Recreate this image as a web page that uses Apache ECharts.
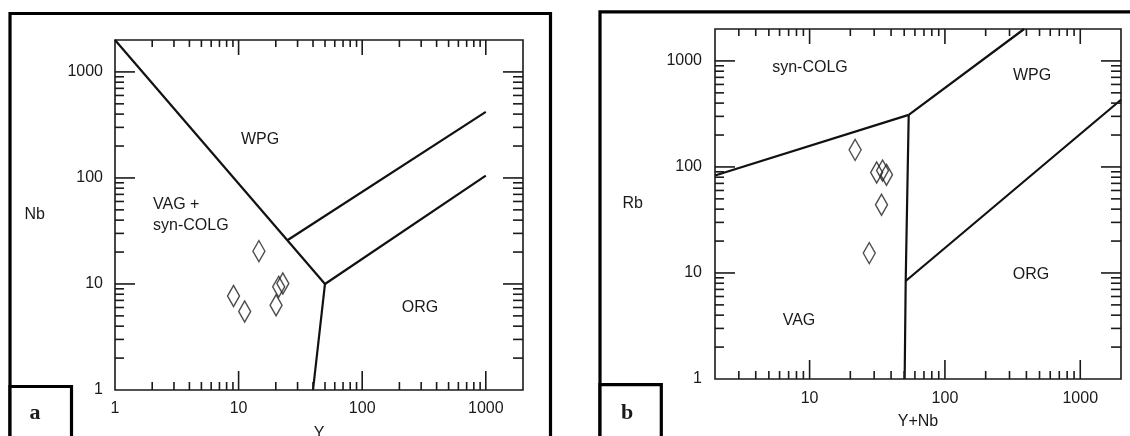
<!DOCTYPE html>
<html><head><meta charset="utf-8">
<script src="https://cdn.jsdelivr.net/npm/echarts@6/dist/echarts.min.js"></script>
<style>html,body{margin:0;padding:0;background:#fff}#c{width:1130px;height:436px}</style>
</head><body><div id="c"></div>
<script>
// ---- Panel a : Nb vs Y ----
const sampleY  = [14.6, 9.1, 11.2, 20.1, 21.1, 22.8];
const sampleNb = [20.4, 7.7, 5.5, 6.3, 9.4, 10.1];
// ---- Panel b : Rb vs Y+Nb ----
const sampleYNb = [21.7, 31.3, 34.6, 37.0, 34.0, 27.6];
const sampleRb  = [145, 88.6, 92.5, 84.3, 44, 15.4];

// discrimination boundaries (Pearce et al. 1984)
const aLineVAG_WPG = [[1, 2000], [50, 10]];
const aLineVAG_ORG = [[50, 10], [40, 1]];
const aLineORG_WPG = [[50, 10], [1000, 105]];
const aLineUpper   = [[25, 26], [1000, 420]];
const bLineVAG_COLG = [[2, 83], [54, 310]];
const bLineCOLG_WPG = [[54, 310], [385, 2000]];
const bLineVAG_ORG  = [[54, 310], [51.3, 8.4], [50.4, 1]];
const bLineORG_WPG  = [[51.3, 8.4], [2000, 430]];

// tick values and labels
const majorLabels = [1, 10, 100, 1000];
const ticksA_x = [2,3,4,5,6,7,8,9,10,20,30,40,50,60,70,80,90,100,200,300,400,500,600,700,800,900,1000];
const ticksA_y = [2,3,4,5,6,7,8,9,10,20,30,40,50,60,70,80,90,100,200,300,400,500,600,700,800,900,1000];
const ticksB_x = [3,4,5,6,7,8,9,10,20,30,40,50,60,70,80,90,100,200,300,400,500,600,700,800,900,1000];
const ticksB_y = [2,3,4,5,6,7,8,9,10,20,30,40,50,60,70,80,90,100,200,300,400,500,600,700,800,900,1000];

const FONT = '"Liberation Sans", Arial, sans-serif';
const INK = '#1a1a1a';
const FS = 16;

function labelFmt(v) {
  const r = Math.round(v);
  return (majorLabels.indexOf(r) >= 0 && Math.abs(v - r) < 1e-3) ? String(r) : '';
}

function logAxis(gridIndex, min, max, name, nameGap, margin, isY) {
  const ax = {
    gridIndex, type: 'log', logBase: 10, min, max,
    axisLine: { show: false }, axisTick: { show: false }, splitLine: { show: false },
    axisLabel: { formatter: labelFmt, margin, fontSize: FS, fontFamily: FONT, color: INK },
    name, nameLocation: 'middle', nameGap,
    nameTextStyle: { fontSize: FS, fontFamily: FONT, color: INK }
  };
  if (isY) ax.nameRotate = 0;
  return ax;
}

function tickSeries(idx, xTicks, yTicks, xMin, xMax, yMin, yMax) {
  const items = [];
  xTicks.forEach(v => items.push({ ax: 'x', v, major: majorLabels.indexOf(v) >= 0 }));
  yTicks.forEach(v => items.push({ ax: 'y', v, major: majorLabels.indexOf(v) >= 0 }));
  return {
    type: 'custom', xAxisIndex: idx, yAxisIndex: idx, silent: true, z: 5,
    data: items.map(it => it.ax === 'x' ? [it.v, yMin] : [xMin, it.v]),
    renderItem(params, api) {
      const it = items[params.dataIndex];
      const st = { stroke: INK, lineWidth: 1.6 };
      if (it.ax === 'x') {
        const b = api.coord([it.v, yMin]), t = api.coord([it.v, yMax]);
        const lb = it.major ? 19 : 8, lt = it.major ? 15 : 7;
        return { type: 'group', children: [
          { type: 'line', shape: { x1: b[0], y1: b[1], x2: b[0], y2: b[1] - lb }, style: st },
          { type: 'line', shape: { x1: t[0], y1: t[1], x2: t[0], y2: t[1] + lt }, style: st }
        ]};
      } else {
        const l = api.coord([xMin, it.v]), r = api.coord([xMax, it.v]);
        const ll = it.major ? 20 : 9, lr = it.major ? 20 : 10;
        return { type: 'group', children: [
          { type: 'line', shape: { x1: l[0], y1: l[1], x2: l[0] + ll, y2: l[1] }, style: st },
          { type: 'line', shape: { x1: r[0], y1: r[1], x2: r[0] - lr, y2: r[1] }, style: st }
        ]};
      }
    }
  };
}

function boundary(idx, data) {
  return { type: 'line', xAxisIndex: idx, yAxisIndex: idx, data, showSymbol: false, symbol: 'none',
    lineStyle: { color: '#111', width: 2.2 }, silent: true, z: 3 };
}

function samples(idx, xs, ys) {
  return { type: 'scatter', xAxisIndex: idx, yAxisIndex: idx,
    data: xs.map((x, i) => [x, ys[i]]),
    symbol: 'diamond', symbolSize: [12, 21],
    itemStyle: { color: 'rgba(0,0,0,0)', borderColor: '#222', borderWidth: 1.5 }, z: 4 };
}

function txt(text, x, y, opts) {
  opts = opts || {};
  return { type: 'text', x, y, z: 20, silent: true,
    style: { text, font: opts.font || (FS + 'px ' + FONT), fill: INK,
      align: opts.align || 'center', verticalAlign: 'middle',
      textAlign: opts.align || 'center', textVerticalAlign: 'middle' } };
}

const chart = echarts.init(document.getElementById('c'), null, { renderer: 'canvas' });
chart.setOption({
  animation: false,
  backgroundColor: '#fff',
  grid: [
    { left: 115, top: 40, width: 408, height: 350, show: true, borderColor: INK, borderWidth: 1.6, outerBoundsMode: 'none' },
    { left: 715, top: 29, width: 406, height: 350, show: true, borderColor: INK, borderWidth: 1.6, outerBoundsMode: 'none' }
  ],
  xAxis: [
    logAxis(0, 1, 2000, 'Y', 36, 11, false),
    logAxis(1, 2, 2000, 'Y+Nb', 35, 12, false)
  ],
  yAxis: [
    logAxis(0, 1, 2000, 'Nb', 70, 12, true),
    logAxis(1, 1, 2000, 'Rb', 72, 13, true)
  ],
  series: [
    boundary(0, aLineVAG_WPG), boundary(0, aLineVAG_ORG), boundary(0, aLineORG_WPG), boundary(0, aLineUpper),
    boundary(1, bLineVAG_COLG), boundary(1, bLineCOLG_WPG), boundary(1, bLineVAG_ORG), boundary(1, bLineORG_WPG),
    samples(0, sampleY, sampleNb),
    samples(1, sampleYNb, sampleRb),
    tickSeries(0, ticksA_x, ticksA_y, 1, 2000, 1, 2000),
    tickSeries(1, ticksB_x, ticksB_y, 2, 2000, 1, 2000)
  ],
  graphic: [
    { type: 'rect', z: 10, silent: true, shape: { x: 10, y: 13.5, width: 540.5, height: 500 }, style: { fill: null, stroke: '#000', lineWidth: 3.2 } },
    { type: 'rect', z: 10, silent: true, shape: { x: 600, y: 11.8, width: 600, height: 500 }, style: { fill: null, stroke: '#000', lineWidth: 3.2 } },
    { type: 'rect', z: 11, silent: true, shape: { x: 10, y: 386.5, width: 61.5, height: 100 }, style: { fill: '#fff', stroke: '#000', lineWidth: 3.2 } },
    { type: 'rect', z: 11, silent: true, shape: { x: 600, y: 384.7, width: 61.3, height: 100 }, style: { fill: '#fff', stroke: '#000', lineWidth: 3.2 } },
    txt('a', 35, 413, { font: 'bold 22px "Liberation Serif", serif' }),
    txt('b', 627, 413, { font: 'bold 22px "Liberation Serif", serif' }),
    txt('WPG', 260, 140),
    txt('VAG +', 153, 205, { align: 'left' }),
    txt('syn-COLG', 153, 226, { align: 'left' }),
    txt('ORG', 420, 308),
    txt('syn-COLG', 810, 68),
    txt('WPG', 1032, 76),
    txt('VAG', 799, 321),
    txt('ORG', 1031, 275)
  ]
});
</script></body></html>
